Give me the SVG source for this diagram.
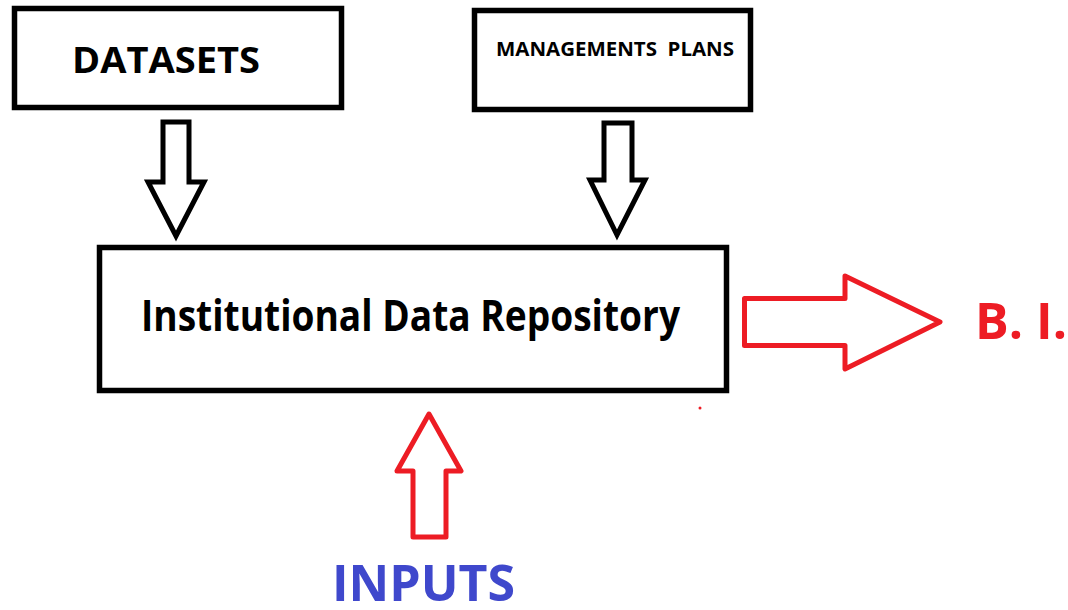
<svg xmlns="http://www.w3.org/2000/svg" width="1068" height="610" viewBox="0 0 1068 610">
<style>
.box{fill:#fff;stroke:#000;stroke-width:5.5}
.t{font-family:"Open Sans","Liberation Sans",sans-serif;font-weight:bold;fill:#000}
.ba{fill:#fff;stroke:#000;stroke-width:5;stroke-linejoin:miter}
.ra{fill:#fff;stroke:#ED1C24;stroke-width:5;stroke-linejoin:round}
</style>
<rect width="1068" height="610" fill="#fff"/>
<g id="datasets">
<rect class="box" x="14.5" y="8.5" width="327" height="99"/>
<text class="t" x="72" y="73" font-size="36" textLength="188" lengthAdjust="spacingAndGlyphs">DATASETS</text>
</g>
<g id="management-plans">
<rect class="box" x="474.5" y="10.5" width="276" height="99"/>
<text class="t" x="496" y="56" font-size="19" textLength="238" lengthAdjust="spacingAndGlyphs" xml:space="preserve">MANAGEMENTS  PLANS</text>
</g>
<g id="repository">
<rect class="box" x="99.5" y="247.5" width="627" height="143"/>
<text class="t" x="141" y="331" font-size="43" textLength="539" lengthAdjust="spacingAndGlyphs">Institutional Data Repository</text>
</g>
<g id="bi">
<text class="t" x="975" y="339" font-size="51" style="fill:#ED1C24" textLength="92" lengthAdjust="spacingAndGlyphs">B. I.</text>
</g>
<g id="inputs">
<text class="t" x="332" y="601" font-size="50" style="fill:#3F48CC" textLength="183" lengthAdjust="spacingAndGlyphs">INPUTS</text>
</g>
<g id="connectors">
<path class="ba" d="M163,122 L189,122 L189,182 L204,182 L176,236 L148,182 L163,182 Z"/>
<path class="ba" d="M604,123 L632,123 L632,180 L645,180 L617,235 L590,180 L604,180 Z"/>
<path class="ra" d="M744.5,298.5 L845,298.5 L845,276 L940,322 L845,369 L845,345.5 L744.5,345.5 Z"/>
<path class="ra" d="M429,414 L461,471 L446,471 L446,537 L413,537 L413,471 L397,471 Z"/>
<circle cx="700" cy="408" r="1.5" fill="#ED1C24"/>
</g>
</svg>
